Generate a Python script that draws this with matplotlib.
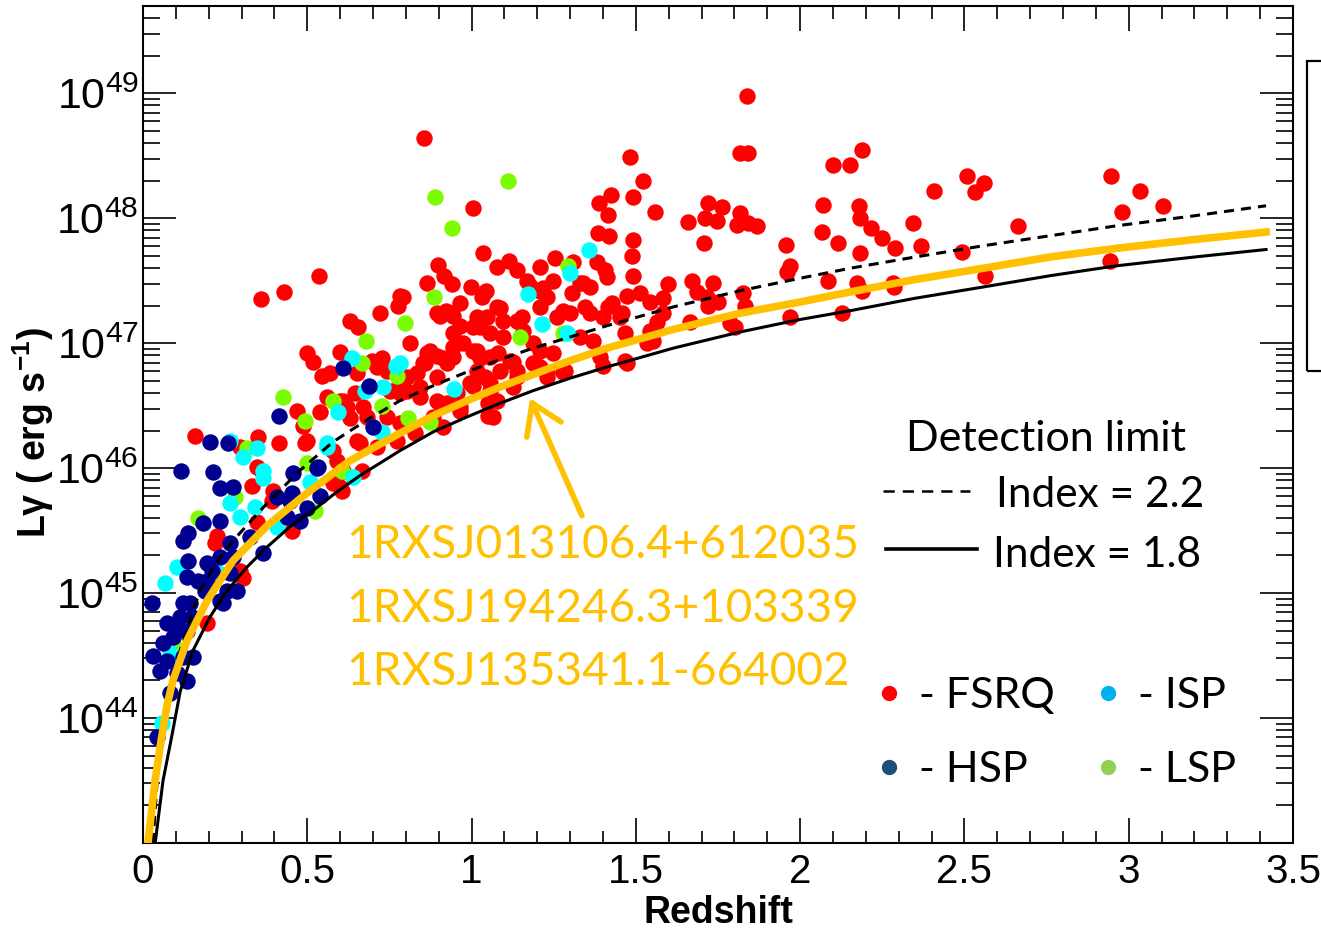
import numpy as np
import matplotlib
matplotlib.use('Agg')
import matplotlib.pyplot as plt
from matplotlib.ticker import MultipleLocator, FixedLocator, LogLocator, FuncFormatter, NullFormatter
from matplotlib.patches import Rectangle
from matplotlib.lines import Line2D

plt.rcParams['font.family'] = ['Liberation Sans', 'DejaVu Sans']
plt.rcParams['mathtext.fontset'] = 'custom'
plt.rcParams['mathtext.rm'] = 'Liberation Sans'
plt.rcParams['mathtext.bf'] = 'Liberation Sans:bold'
plt.rcParams['mathtext.default'] = 'regular'

# --- blazars: redshift and log10(L_gamma / erg s^-1) ---
fsrq_z = [0.855, 1.838, 1.817, 1.841, 1.482, 1.522, 1.491, 1.004, 1.388, 1.424,
          1.415, 1.558, 1.720, 1.762, 1.710, 1.747, 1.659, 1.817, 1.808, 1.841,
          1.869, 2.100, 2.152, 2.188, 2.070, 2.179, 2.182, 2.216, 2.249, 2.067,
          2.115, 1.957, 1.707, 2.182, 2.289, 1.969, 1.960, 2.085, 1.385, 1.418,
          1.491, 1.488, 1.491, 1.382, 1.406, 1.412, 1.035, 0.898, 0.916, 0.864,
          0.940, 1.077, 1.114, 1.138, 1.208, 1.254, 1.309, 0.998, 1.044, 1.032,
          1.169, 1.248, 1.330, 1.360, 1.473, 1.513, 1.598, 1.671, 1.735, 1.717,
          1.826, 1.832, 1.720, 1.750, 1.969, 2.127, 2.173, 2.188, 2.283, 1.665,
          1.787, 1.802, 1.583, 1.583, 1.564, 1.543, 1.534, 1.552, 1.452, 1.415,
          1.400, 1.467, 1.473, 1.391, 1.400, 1.330, 1.370, 1.260, 1.300, 1.230,
          1.208, 1.153, 1.157, 1.077, 1.047, 0.965, 0.934, 0.895, 1.017, 0.943,
          0.974, 1.026, 1.056, 1.096, 1.117, 1.138, 1.056, 1.017, 0.943, 0.913,
          0.873, 0.852, 0.813, 0.803, 1.187, 1.248, 1.230, 1.278, 1.208, 1.056,
          1.077, 1.050, 1.017, 0.995, 0.904, 0.843, 0.965, 0.791, 0.791, 1.284,
          1.230, 1.467, 1.543, 1.427, 1.458, 1.345, 1.360, 1.278, 1.306, 1.217,
          1.339, 1.686, 2.343, 2.368, 2.407, 2.508, 2.560, 2.532, 2.663, 2.493,
          2.563, 2.286, 2.946, 3.034, 3.104, 2.980, 2.943, 0.536, 0.782, 0.776,
          0.922, 0.904, 0.943, 1.178, 1.208, 0.721, 0.630, 0.654, 1.087, 1.096,
          1.004, 1.138, 0.965, 0.499, 0.517, 0.600, 0.697, 0.727, 0.864, 0.858,
          0.895, 0.925, 0.943, 1.004, 1.026, 1.080, 1.126, 1.208, 0.545, 0.569,
          0.651, 0.712, 0.743, 0.782, 0.803, 0.834, 0.843, 0.895, 1.041, 1.004,
          1.087, 1.138, 1.187, 0.560, 0.609, 0.645, 0.670, 0.682, 0.752, 0.782,
          0.895, 0.925, 0.956, 0.965, 0.883, 0.913, 0.782, 0.743, 1.050, 1.065,
          1.056, 1.126, 0.487, 0.499, 0.539, 0.630, 0.651, 0.773, 0.828, 0.578,
          0.590, 0.712, 0.667, 0.359, 0.429, 0.469, 0.600, 0.621, 0.158, 0.350,
          0.414, 0.493, 0.660, 0.362, 0.332, 0.396, 0.578, 0.600, 0.609, 0.295,
          0.347, 0.225, 0.219, 0.347, 0.453, 0.295, 0.304, 0.393, 0.606, 0.195]
fsrq_logl = [48.64, 48.98, 48.52, 48.52, 48.49, 48.30, 48.17, 48.08, 48.12, 48.19,
             48.03, 48.05, 48.12, 48.09, 48.00, 47.98, 47.97, 48.04, 47.95, 47.96,
             47.94, 48.43, 48.43, 48.55, 48.11, 48.10, 48.00, 47.92, 47.84, 47.89,
             47.80, 47.79, 47.80, 47.72, 47.76, 47.62, 47.57, 47.50, 47.88, 47.86,
             47.83, 47.70, 47.54, 47.65, 47.59, 47.53, 47.72, 47.63, 47.54, 47.48,
             47.47, 47.61, 47.66, 47.59, 47.61, 47.68, 47.65, 47.45, 47.42, 47.37,
             47.50, 47.50, 47.48, 47.45, 47.38, 47.40, 47.47, 47.50, 47.48, 47.37,
             47.40, 47.30, 47.30, 47.33, 47.21, 47.24, 47.48, 47.42, 47.48, 47.17,
             47.16, 47.13, 47.36, 47.24, 47.17, 47.10, 47.00, 47.02, 47.21, 47.29,
             47.21, 47.08, 46.84, 46.89, 46.82, 47.05, 47.02, 47.21, 47.24, 47.37,
             47.29, 47.21, 47.10, 47.29, 47.21, 47.32, 47.24, 47.24, 47.21, 47.08,
             47.00, 47.13, 47.08, 47.05, 46.86, 46.78, 46.89, 46.94, 46.97, 46.88,
             46.94, 46.84, 47.00, 46.62, 47.00, 46.92, 46.76, 46.77, 46.81, 46.68,
             46.54, 46.42, 46.78, 46.68, 46.52, 46.57, 46.49, 47.37, 46.73, 46.78,
             46.73, 46.86, 47.33, 47.32, 47.24, 47.29, 47.24, 47.26, 47.40, 47.44,
             47.48, 47.41, 47.96, 47.78, 48.22, 48.34, 48.28, 48.21, 47.94, 47.73,
             47.54, 47.45, 48.34, 48.22, 48.10, 48.05, 47.66, 47.54, 47.38, 47.30,
             47.26, 47.22, 47.22, 47.46, 47.42, 47.24, 47.18, 47.13, 47.28, 47.18,
             47.13, 47.18, 47.14, 46.92, 46.85, 46.93, 46.86, 46.88, 46.92, 46.84,
             46.90, 46.84, 46.89, 46.94, 46.88, 46.92, 46.85, 46.94, 46.74, 46.76,
             46.76, 46.81, 46.78, 46.68, 46.73, 46.76, 46.65, 46.73, 46.73, 46.66,
             46.78, 46.73, 46.84, 46.57, 46.54, 46.60, 46.49, 46.41, 46.62, 46.60,
             46.54, 46.52, 46.60, 46.46, 46.41, 46.33, 46.36, 46.41, 46.52, 46.41,
             46.62, 46.65, 46.34, 46.22, 46.45, 46.40, 46.22, 46.22, 46.28, 46.14,
             46.06, 46.17, 45.98, 47.35, 47.41, 46.46, 46.54, 46.49, 46.26, 46.25,
             46.20, 46.20, 46.20, 45.98, 45.86, 45.82, 45.88, 45.85, 45.98, 46.17,
             46.01, 45.46, 45.40, 45.57, 45.50, 45.18, 45.12, 45.74, 45.82, 44.76]

hsp_z = [0.609, 0.688, 0.700, 0.530, 0.414, 0.116, 0.204, 0.259, 0.213, 0.234,
         0.274, 0.457, 0.533, 0.453, 0.499, 0.234, 0.183, 0.137, 0.122, 0.137,
         0.195, 0.234, 0.134, 0.167, 0.189, 0.210, 0.265, 0.274, 0.256, 0.286,
         0.243, 0.027, 0.073, 0.122, 0.143, 0.113, 0.149, 0.103, 0.134, 0.061,
         0.091, 0.030, 0.052, 0.073, 0.122, 0.152, 0.103, 0.134, 0.082, 0.043,
         0.326, 0.365, 0.438, 0.478, 0.447, 0.408, 0.539, 0.195, 0.234, 0.265]
hsp_logl = [46.80, 46.66, 46.33, 46.00, 46.42, 45.98, 46.21, 46.20, 45.97, 45.84,
            45.85, 45.96, 46.01, 45.80, 45.68, 45.58, 45.56, 45.48, 45.42, 45.26,
            45.24, 45.29, 45.13, 45.10, 45.02, 45.18, 45.40, 45.29, 45.02, 45.02,
            44.92, 44.92, 44.76, 44.92, 44.92, 44.81, 44.81, 44.70, 44.70, 44.60,
            44.65, 44.50, 44.38, 44.46, 44.49, 44.49, 44.36, 44.30, 44.20, 43.85,
            45.45, 45.32, 45.61, 45.58, 45.74, 45.77, 45.78, 45.10, 44.94, 45.16]

isp_z = [1.357, 1.300, 1.172, 1.214, 1.290, 0.947, 0.782, 0.636, 0.770, 0.730,
         0.676, 0.593, 0.727, 0.560, 0.265, 0.304, 0.347, 0.365, 0.365, 0.560,
         0.508, 0.639, 0.265, 0.341, 0.295, 0.103, 0.067, 0.408, 0.228, 0.082,
         0.058]
isp_logl = [47.75, 47.56, 47.39, 47.15, 47.08, 46.63, 46.84, 46.88, 46.82, 46.65,
            46.62, 46.45, 46.29, 46.17, 46.22, 46.09, 46.16, 45.98, 45.92, 46.20,
            45.89, 45.93, 45.72, 45.69, 45.61, 45.21, 45.08, 45.53, 45.16, 44.52,
            43.96]

lsp_z = [0.889, 1.111, 0.940, 0.886, 0.797, 1.147, 1.293, 1.278, 0.806, 0.873,
         0.679, 0.667, 0.773, 0.578, 0.727, 0.493, 0.499, 0.426, 0.317, 0.280,
         0.606, 0.167, 0.091, 0.523]
lsp_logl = [48.17, 48.30, 47.92, 47.37, 47.16, 47.05, 47.62, 47.08, 46.40, 46.37,
            47.02, 46.84, 46.74, 46.54, 46.50, 46.38, 46.04, 46.57, 46.16, 45.77,
            45.98, 45.60, 44.60, 45.66]

# --- detection limit curves ---
lim22_z = [0.030, 0.050, 0.075, 0.113, 0.173, 0.225, 0.274, 0.378, 0.477, 0.578,
           0.690, 0.782, 0.883, 0.986, 1.087, 1.187, 1.300, 1.412, 1.613, 1.817,
           2.000, 2.152, 2.350, 2.557, 2.760, 2.964, 3.200, 3.418]
lim22_logl = [43.00, 43.75, 44.15, 44.54, 45.02, 45.25, 45.42, 45.72, 45.98, 46.21,
              46.40, 46.54, 46.66, 46.77, 46.87, 46.96, 47.05, 47.14, 47.29, 47.42,
              47.52, 47.60, 47.69, 47.78, 47.86, 47.94, 48.02, 48.10]

lim18_z = [0.037, 0.061, 0.088, 0.113, 0.152, 0.204, 0.256, 0.317, 0.378, 0.447,
           0.517, 0.590, 0.660, 0.782, 0.883, 0.986, 1.087, 1.187, 1.300, 1.412,
           1.613, 1.817, 2.000, 2.152, 2.350, 2.557, 2.760, 2.964, 3.200, 3.418]
lim18_logl = [43.00, 43.50, 43.86, 44.21, 44.54, 44.81, 45.02, 45.21, 45.37, 45.53,
              45.66, 45.81, 45.94, 46.14, 46.29, 46.41, 46.52, 46.62, 46.72, 46.81,
              46.96, 47.09, 47.19, 47.26, 47.36, 47.45, 47.54, 47.62, 47.69, 47.75]

src_z = [0.015, 0.037, 0.052, 0.073, 0.091, 0.134, 0.195, 0.274, 0.378, 0.499,
         0.630, 0.782, 0.883, 0.986, 1.087, 1.187, 1.300, 1.412, 1.613, 1.817,
         2.000, 2.152, 2.350, 2.557, 2.760, 2.964, 3.200, 3.418]
src_logl = [43.00, 43.50, 43.77, 44.10, 44.30, 44.62, 44.94, 45.26, 45.54, 45.80,
            46.06, 46.28, 46.42, 46.54, 46.65, 46.75, 46.86, 46.96, 47.11, 47.24,
            47.33, 47.41, 47.51, 47.60, 47.69, 47.76, 47.83, 47.89]

src_names = ['1RXSJ013106.4+612035', '1RXSJ194246.3+103339', '1RXSJ135341.1-664002']

W, H = 1321, 932
fig = plt.figure(figsize=(W / 100, H / 100), dpi=100)
ax = fig.add_axes([143 / W, 1 - 843 / H, 1150 / W, 837 / H])

def fp(x, y):
    # pixel position -> figure fraction
    return x / W, 1 - y / H

ax.scatter(fsrq_z, 10 ** np.array(fsrq_logl), s=140, c='#ff0000', lw=0, zorder=2)
ax.scatter(lsp_z, 10 ** np.array(lsp_logl), s=140, c='#7cfc00', lw=0, zorder=2)
ax.scatter(isp_z, 10 ** np.array(isp_logl), s=140, c='#00ffff', lw=0, zorder=2)
ax.scatter(hsp_z, 10 ** np.array(hsp_logl), s=140, c='#000090', lw=0, zorder=2)

ax.plot(lim22_z, 10 ** np.array(lim22_logl), color='black', lw=2.2, ls=(0, (3.3, 2.3)), zorder=4)
ax.plot(lim18_z, 10 ** np.array(lim18_logl), color='black', lw=2.2, zorder=4)
ax.plot(src_z, 10 ** np.array(src_logl), color='#ffc000', lw=5.5, zorder=5)

ax.annotate('', xy=(1.178, 10 ** 46.56), xytext=(1.336, 10 ** 45.62),
            arrowprops=dict(arrowstyle='->,head_length=0.7,head_width=0.45',
                            color='#ffc000', lw=4, mutation_scale=30,
                            shrinkA=0, shrinkB=0), zorder=6)

ax.set_yscale('log')
ax.set_xlim(0, 3.5)
ax.set_ylim(1e43, 5e49)

ax.xaxis.set_major_locator(MultipleLocator(0.5))
ax.xaxis.set_minor_locator(MultipleLocator(0.1))
ax.xaxis.set_major_formatter(FuncFormatter(lambda v, p: '%g' % v))
ax.yaxis.set_major_locator(FixedLocator([10.0 ** k for k in range(43, 50)]))
ax.yaxis.set_minor_locator(LogLocator(base=10, subs=range(2, 10), numticks=20))
ax.yaxis.set_minor_formatter(NullFormatter())
ax.yaxis.set_major_formatter(FuncFormatter(
    lambda v, p: '' if v < 1.5e43 else r'$10^{%d}$' % round(np.log10(v))))

ax.tick_params(which='both', direction='in', top=True, right=True, width=1.2)
ax.tick_params(axis='x', which='major', length=18, pad=7, labelsize=29)
ax.tick_params(axis='x', which='minor', length=9)
ax.tick_params(axis='y', which='major', length=24, pad=3, labelsize=31)
ax.tick_params(axis='y', which='minor', length=12)
for s in ax.spines.values():
    s.set_linewidth(1.5)

ax.set_xlabel('Redshift', fontsize=27, fontweight='bold', labelpad=3)
ax.set_ylabel(r'L$\gamma$ ( erg s$^{-1}$)', fontsize=27, fontweight='bold')
ax.yaxis.set_label_coords(-0.076, 0.49)

# detection limit key
lato = ['Lato', 'DejaVu Sans']
fig.text(*fp(906, 451), 'Detection limit', fontsize=31, family=lato, va='baseline')
fig.text(*fp(996, 507), 'Index = 2.2', fontsize=30.5, family=lato, va='baseline')
fig.text(*fp(993, 567), 'Index = 1.8', fontsize=30.5, family=lato, va='baseline')
fig.lines.append(Line2D([883 / W, 970 / W], [1 - 491 / H] * 2, transform=fig.transFigure,
                        color='black', lw=1.8, ls=(0, (4.5, 3.2))))
fig.lines.append(Line2D([886 / W, 977 / W], [1 - 549 / H] * 2, transform=fig.transFigure,
                        color='black', lw=2.6))

# class key
key = [('- FSRQ', '#ff0000', 889, 693), ('- ISP', '#00b0f0', 1108, 693),
       ('- HSP', '#1f4e79', 889, 767), ('- LSP', '#92d050', 1108, 767)]
for lab, col, x, y in key:
    fig.lines.append(Line2D([x / W], [1 - y / H], transform=fig.transFigure,
                            marker='o', ms=10, color=col, lw=0))
    fig.text(*fp(x + 30, y + 15), lab, fontsize=31, family=lato, va='baseline')

# source names
for i, name in enumerate(src_names):
    fig.text(*fp(346, 558 + 63.5 * i), name, fontsize=33, family=lato,
             color='#ffc000', va='baseline')

# clipped box at the right edge
fig.patches.append(Rectangle(fp(1307, 371), 40 / W, 310 / H, transform=fig.transFigure,
                             fill=False, lw=1.6, ec='black'))

fig.savefig('out.png', dpi=100)
